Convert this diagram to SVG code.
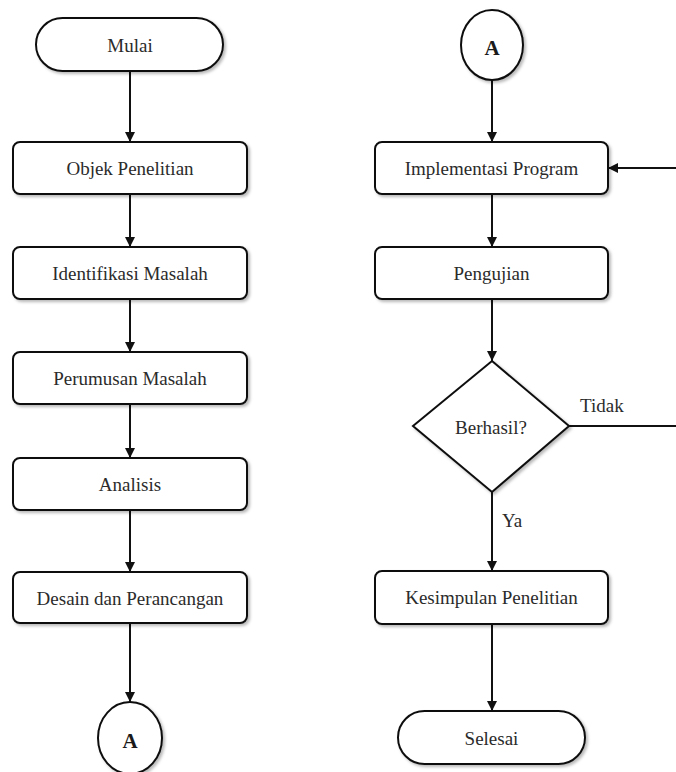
<svg xmlns="http://www.w3.org/2000/svg" width="676" height="772" viewBox="0 0 676 772">
  <style>
    .shape { fill: #ffffff; stroke: #111111; stroke-width: 2; filter: url(#shadow); }
    .label { font-family: 'Liberation Serif', 'DejaVu Serif', serif; font-size: 19px; fill: #2b2b2b; text-anchor: middle; dominant-baseline: central; }
    .conn { font-family: 'Liberation Serif', 'DejaVu Serif', serif; font-size: 19px; fill: #2b2b2b; }
    .ref { font-family: 'Liberation Serif', 'DejaVu Serif', serif; font-size: 21px; font-weight: bold; fill: #1a1a1a; text-anchor: middle; dominant-baseline: central; }
    .edge { fill: none; stroke: #111111; stroke-width: 2; }
  </style>
  <defs>
    <filter id="shadow" x="-10%" y="-10%" width="125%" height="130%">
      <feDropShadow dx="2" dy="2" stdDeviation="1.5" flood-color="#000000" flood-opacity="0.28"/>
    </filter>
    <marker id="arrow" viewBox="0 0 10 10" refX="10" refY="5" markerWidth="5" markerHeight="5" orient="auto" markerUnits="strokeWidth">
      <path d="M0,0 L10,5 L0,10 z" fill="#111111"/>
    </marker>
  </defs>
  <rect width="676" height="772" fill="#ffffff"/>

  <!-- connectors -->
  <g id="connectors">
    <line class="edge" x1="130" y1="71" x2="130" y2="142" marker-end="url(#arrow)"/>
    <line class="edge" x1="130" y1="194" x2="130" y2="247" marker-end="url(#arrow)"/>
    <line class="edge" x1="130" y1="299" x2="130" y2="352" marker-end="url(#arrow)"/>
    <line class="edge" x1="130" y1="404" x2="130" y2="458" marker-end="url(#arrow)"/>
    <line class="edge" x1="130" y1="510" x2="130" y2="572" marker-end="url(#arrow)"/>
    <line class="edge" x1="130" y1="623" x2="130" y2="702" marker-end="url(#arrow)"/>

    <line class="edge" x1="492" y1="80" x2="492" y2="142" marker-end="url(#arrow)"/>
    <line class="edge" x1="676" y1="168" x2="608" y2="168" marker-end="url(#arrow)"/>
    <line class="edge" x1="492" y1="194" x2="492" y2="247" marker-end="url(#arrow)"/>
    <line class="edge" x1="492" y1="299" x2="492" y2="361" marker-end="url(#arrow)"/>
    <line class="edge" x1="569" y1="426" x2="676" y2="426"/>
    <line class="edge" x1="492" y1="492" x2="492" y2="571" marker-end="url(#arrow)"/>
    <line class="edge" x1="492" y1="624" x2="492" y2="711" marker-end="url(#arrow)"/>
    <text class="conn" x="580" y="412">Tidak</text>
    <text class="conn" x="502" y="527">Ya</text>
  </g>

  <!-- left column -->
  <g id="mulai">
    <rect class="shape" x="36" y="18" width="187" height="53" rx="26.5"/>
    <text class="label" x="130" y="45">Mulai</text>
  </g>
  <g id="objek-penelitian">
    <rect class="shape" x="13" y="142" width="234" height="52" rx="7"/>
    <text class="label" x="130" y="168">Objek Penelitian</text>
  </g>
  <g id="identifikasi-masalah">
    <rect class="shape" x="13" y="247" width="234" height="52" rx="7"/>
    <text class="label" x="130" y="273">Identifikasi Masalah</text>
  </g>
  <g id="perumusan-masalah">
    <rect class="shape" x="13" y="352" width="234" height="52" rx="7"/>
    <text class="label" x="130" y="378">Perumusan Masalah</text>
  </g>
  <g id="analisis">
    <rect class="shape" x="13" y="458" width="234" height="52" rx="7"/>
    <text class="label" x="130" y="484">Analisis</text>
  </g>
  <g id="desain-perancangan">
    <rect class="shape" x="13" y="572" width="234" height="51" rx="7"/>
    <text class="label" x="130" y="598">Desain dan Perancangan</text>
  </g>
  <g id="konektor-a-keluar">
    <ellipse class="shape" cx="130" cy="738" rx="32" ry="36"/>
    <text class="ref" x="130" y="741">A</text>
  </g>

  <!-- right column -->
  <g id="konektor-a-masuk">
    <ellipse class="shape" cx="492" cy="45" rx="31" ry="35"/>
    <text class="ref" x="492" y="48">A</text>
  </g>
  <g id="implementasi-program">
    <rect class="shape" x="375" y="142" width="233" height="52" rx="7"/>
    <text class="label" x="491.5" y="168">Implementasi Program</text>
  </g>
  <g id="pengujian">
    <rect class="shape" x="375" y="247" width="233" height="52" rx="7"/>
    <text class="label" x="491.5" y="273">Pengujian</text>
  </g>
  <g id="berhasil">
    <polygon class="shape" points="492,361 569,426 492,492 413,426"/>
    <text class="label" x="491" y="427">Berhasil?</text>
  </g>
  <g id="kesimpulan-penelitian">
    <rect class="shape" x="375" y="571" width="233" height="53" rx="7"/>
    <text class="label" x="491.5" y="597">Kesimpulan Penelitian</text>
  </g>
  <g id="selesai">
    <rect class="shape" x="398" y="711" width="187" height="53" rx="26.5"/>
    <text class="label" x="491.5" y="738">Selesai</text>
  </g>
</svg>
